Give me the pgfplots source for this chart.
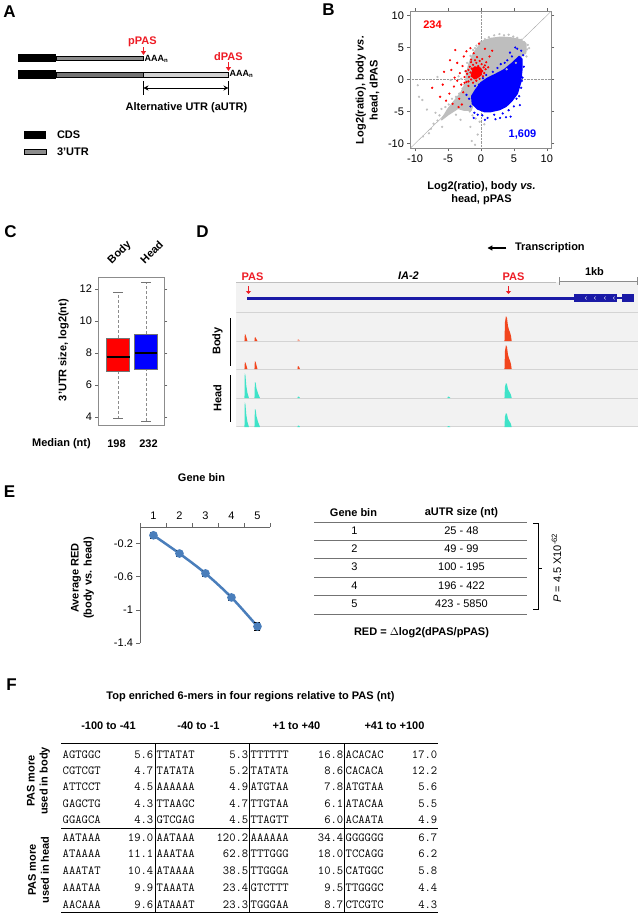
\documentclass[border=0pt]{standalone}
\usepackage{fontspec}
\setmainfont{Liberation Sans}
\usepackage{pgfplots}
\pgfplotsset{compat=1.18}
\usetikzlibrary{arrows.meta}
\definecolor{rgray}{HTML}{BEBEBE}
\definecolor{pasred}{HTML}{EE1C25}
\definecolor{genblue}{HTML}{1A1AA6}
\definecolor{trkred}{HTML}{F2461E}
\definecolor{trkcyan}{HTML}{3FE3C8}
\definecolor{steel}{HTML}{4A7EBB}
\definecolor{bgtrack}{HTML}{F2F2F2}
\definecolor{septrack}{HTML}{D4D4D4}
\newcommand{\ft}{\fontsize{11}{13}\selectfont}
\newcommand{\ftb}{\fontsize{11}{13}\selectfont\bfseries}
\newcommand{\fpl}{\fontsize{17}{20}\selectfont\bfseries}
\newcommand{\fmono}{\fontsize{12.3}{14}\selectfont\ttfamily}
\begin{document}
\begin{tikzpicture}[x=1pt,y=1pt]
\fill[white] (0,0) rectangle (637,-913);
% ---------------- panel letters
\node[font=\fpl] at (8,-12) {A};
\node[font=\fpl] at (327,-10) {B};
\node[font=\fpl] at (9,-232) {C};
\node[font=\fpl] at (201,-232) {D};
\node[font=\fpl] at (8,-492) {E};
\node[font=\fpl] at (10,-685) {F};
% ---------------- panel A
\fill[black] (17,-54) rectangle (55,-62);
\filldraw[fill=black!45,draw=black,line width=0.6pt] (55,-56) rectangle (142,-60);
\fill[black] (17,-70) rectangle (55,-79);
\filldraw[fill=black!55,draw=black,line width=0.6pt] (55,-72) rectangle (142,-77);
\filldraw[fill=black!18,draw=black,line width=0.6pt] (142,-72) rectangle (227,-77);
\node[anchor=west,font=\fontsize{9}{10}\selectfont\bfseries,inner sep=1pt] at (142,-59) {AAA\textsubscript{n}};
\node[anchor=west,font=\fontsize{9}{10}\selectfont\bfseries,inner sep=1pt] at (227,-74) {AAA\textsubscript{n}};
\node[font=\ftb,text=pasred] at (141,-42) {pPAS};
\node[font=\ftb,text=pasred] at (227,-57) {dPAS};
\draw[pasred,line width=1pt,-{Triangle[length=4pt,width=5pt]}] (142,-47) -- (142,-55);
\draw[pasred,line width=1pt,-{Triangle[length=4pt,width=5pt]}] (227,-62) -- (227,-71);
\draw[line width=0.7pt,{Stealth[length=5pt,width=5pt]}-{Stealth[length=5pt,width=5pt]}] (142,-88) -- (227,-88);
\draw[line width=0.7pt] (142,-81) -- (142,-95) (227,-81) -- (227,-95);
\node[font=\ftb] at (185,-108) {Alternative UTR (aUTR)};
\fill[black] (23,-131) rectangle (45,-139);
\node[font=\ftb,anchor=west] at (52,-135) {CDS};
\filldraw[fill=black!45,draw=black,line width=0.6pt] (23,-149) rectangle (45,-154);
\node[font=\ftb,anchor=west] at (52,-152) {3'UTR};
% ---------------- panel B
\begin{axis}[at={(409pt,-148pt)},anchor=south west,scale only axis,width=141pt,height=137pt,
  xmin=-10.7,xmax=10.7,ymin=-10.7,ymax=10.7,
  xtick={-10,-5,0,5,10},xticklabels={-10,-5,0,5,10},
  ytick={-10,-5,0,5,10},yticklabels={-10,-5,0,5,10},
  tick align=outside,major tick length=3pt,
  axis line style={draw=black!45},tick style={black!60},
  tick label style={font=\ft}]
\addplot[black!35,line width=0.4pt] coordinates {(-10.7,-10.7)(10.7,10.7)};
\addplot[black!40,densely dotted,line width=0.4pt] coordinates {(0,-10.7)(0,10.7)};
\addplot[black!40,densely dotted,line width=0.4pt] coordinates {(-10.7,0)(10.7,0)};
\addplot[fill=rgray,draw=rgray,line width=1.5pt,line join=round] coordinates {
(-6,-6.3)(-5,-4.6)(-4,-3.3)(-3,-2.0)(-2.3,-0.5)(-2.2,0.8)(-1.8,2.5)(-1.2,4.0)(-0.5,5.0)(0.3,6.0)
(1.5,6.4)(3,6.6)(4.5,6.5)(6,6.2)(6.8,5.6)(6.8,4.3)(6,3.5)(4.5,2.2)(3,1.2)(1.5,0)(0,-1.8)
(-1,-3.2)(-1.5,-4.8)(-2.5,-4.8)(-3.5,-4.5)(-5,-5.5)} -- cycle;
\addplot[only marks,mark=*,mark size=0.9pt,rgray] coordinates {
(-9.6,-0.9)(-9.4,-2.7)(-8.9,-3.2)(-8.2,-4.7)(-7.9,-8.4)(-7.6,-7.7)(-7.2,-6.9)(-6.9,-5.2)(-6.6,-6.4)
(-6.3,-5.6)(-6,-4.6)(-5.7,-5.9)(-5.4,-4.3)(-5.2,-5.2)(-4.9,-3.9)(-4.6,-4.4)(-4.4,-3.0)(-4.1,-3.6)
(-3.8,-2.7)(-3.6,-3.4)(-3.3,-2.2)(-3.0,-2.7)(-2.8,-1.4)(-2.6,-2.6)(-2.5,-0.8)(-2.3,-3.4)(-2.0,-4.3)
(-1.7,-5.0)(-1.3,-5.6)(-0.8,-6.1)(-0.2,-6.6)(-1.6,-7.4)(-0.5,-8.6)(-0.9,-10.2)(-3.0,0.1)(-4.6,-0.1)
(-6.6,0.4)(-3.4,0.5)(-2.4,1.3)(-2.1,2.6)(-1.6,3.7)(-1.2,4.6)(-0.7,5.3)(-0.1,5.8)(0.6,6.3)(1.2,6.6)
(2.0,6.9)(2.8,7.1)(3.5,6.9)(4.2,7.0)(4.9,6.7)(5.5,6.5)(6.1,6.2)(6.6,5.8)(7.1,5.4)(7.0,4.7)(6.7,4.1)
(6.4,4.8)(-5.9,-7.4)(-8.8,-8.9)(-3.8,-5.5)(0.5,-7.0)(-2.0,-1.0)(-1.7,0.2)(-1.5,3.0)(-0.9,4.9)(0,5.3)
(1,6.0)(2.5,6.4)(4,6.3)(5.8,5.9)(6.5,5.2)(7.3,4.9)(6.9,3.6)(5.3,2.6)(3.9,1.6)(-1.4,-9.6)(-3.1,-6.3)};
\addplot[fill=blue,draw=blue,line width=1.5pt,line join=round] coordinates {
(-0.8,-1.6)(0,-0.5)(1,0.2)(2.2,0.8)(3.5,1.5)(4.8,2.6)(5.8,3.6)(6.2,3.2)(6.2,1.5)(6,-0.5)(5.5,-2.2)
(4.7,-3.3)(3.8,-4.2)(2.8,-4.7)(1.5,-5.0)(0.5,-5.0)(-0.5,-4.6)(-1.3,-3.8)(-1.4,-2.6)} -- cycle;
\addplot[only marks,mark=*,mark size=0.9pt,blue] coordinates {
(-1.8,-3)(-1.6,-4.2)(-1,-5.2)(0.2,-5.6)(1,-6)(2,-5.5)(2.2,-6.2)(3.3,-5.3)(4.2,-4.8)(4.5,-5.8)(5,-4.2)
(5.4,-3)(5.8,-2.6)(6.1,-1.3)(6.3,0.3)(6.5,2)(6.1,4.5)(5.5,4.8)(5.2,5.0)(4.7,3.6)(4,3.0)(3,2.4)(2.5,1.8)
(1.8,1.2)(0.8,0.7)(0.3,0.2)(-0.3,-0.8)(-0.9,-1.0)(3.8,-5.9)(1.6,-4.9)(5.9,-4)(-0.5,-5.5)(6.2,-0.2)
(5.7,1.3)(2.9,-6)(0.6,-6.3)(-2.2,-2.4)(-1.1,-6.0)(5.9,2.8)(6.4,3.8)(4.4,4.2)(3.6,2.6)};
\addplot[fill=red,draw=red,line width=1pt,line join=round] coordinates {
(-1.5,0.5)(-0.8,0.1)(-0.1,0.6)(0.2,1.4)(-0.4,2.0)(-1.2,1.8)} -- cycle;
\addplot[only marks,mark=*,mark size=0.9pt,red] coordinates {
(-2.1,0.9)(-1.9,1.5)(-1.8,0.4)(-1.7,2.0)(-1.6,1.1)(-1.5,0.0)(-1.4,1.7)(-1.3,0.7)(-1.2,2.3)(-1.1,1.3)
(-1.0,0.2)(-0.9,1.9)(-0.8,0.9)(-0.7,2.6)(-0.7,-0.2)(-0.6,1.5)(-0.5,0.5)(-0.4,2.1)(-0.3,1.1)(-0.2,0.1)
(-0.1,1.7)(0.0,0.8)(0.1,2.4)(0.2,1.3)(0.3,0.5)(0.4,1.9)(0.5,1.0)(0.6,2.2)(-1.9,-0.3)(-2.3,1.3)
(-1.5,2.7)(-0.9,3.0)(-0.2,2.9)(0.7,1.6)(-2.5,-0.5)(-1.2,-0.5)
(-7.4,-1.3)(-6.2,-2.7)(-5.6,1.2)(-4.7,3.0)(-3.9,4.6)(-4.5,1.5)(-3.6,2.6)(-3.2,1.0)(-2.8,2.1)(-2.6,3.6)
(-2.2,4.4)(-1.6,4.9)(-1.1,4.1)(-0.6,3.5)(-0.3,5.6)(0.2,3.2)(0.8,2.7)(1.3,3.6)(1.7,4.5)(0.6,4.8)
(-3.6,-0.2)(-4.1,-1.1)(-4.8,-2.2)(-5.3,-3.3)(-4.3,-3.8)(-3.3,-3.0)(-2.7,-2.0)(-1.9,-1.0)(-3.0,-0.8)
(-5.8,-0.8)(-2.5,0.4)(1.1,1.9)(-1.5,3.1)(-4.0,0.3)(-3.4,-4.3)(-2.2,-0.4)(-2.9,-3.9)};
\end{axis}
\node[font=\ftb,text=red] at (431,-25) {234};
\node[font=\ftb,text=blue] at (521,-135) {1,609};
\node[rotate=90,font=\ftb,align=center] at (366,-90) {Log2(ratio), body \textit{vs.}\\[1pt]head, dPAS};
\node[font=\ftb,align=center] at (480,-193) {Log2(ratio), body \textit{vs.}\\[0pt]head, pPAS};
% ---------------- panel C
\begin{axis}[at={(97pt,-425pt)},anchor=south west,scale only axis,width=66pt,height=148pt,
  xmin=0.3,xmax=2.66,ymin=3.5,ymax=12.75,xtick=\empty,
  ytick={4,6,8,10,12},yticklabels={4,6,8,10,12},
  tick align=outside,major tick length=3pt,
  axis line style={draw=black!45},tick style={black!60},
  tick label style={font=\ft}]
\addplot[black!45,densely dashed,line width=0.4pt] coordinates {(1,3.9)(1,6.87)};
\addplot[black!45,densely dashed,line width=0.4pt] coordinates {(1,8.94)(1,11.8)};
\addplot[black!55,line width=0.5pt] coordinates {(0.83,3.9)(1.17,3.9)};
\addplot[black!55,line width=0.5pt] coordinates {(0.83,11.8)(1.17,11.8)};
\addplot[fill=red,draw=black!55,line width=0.4pt] coordinates {(0.59,6.87)(1.41,6.87)(1.41,8.94)(0.59,8.94)} -- cycle;
\addplot[black,line width=1.2pt] coordinates {(0.59,7.75)(1.41,7.75)};
\addplot[black!45,densely dashed,line width=0.4pt] coordinates {(2,3.75)(2,7.0)};
\addplot[black!45,densely dashed,line width=0.4pt] coordinates {(2,9.19)(2,12.4)};
\addplot[black!55,line width=0.5pt] coordinates {(1.83,3.75)(2.17,3.75)};
\addplot[black!55,line width=0.5pt] coordinates {(1.83,12.4)(2.17,12.4)};
\addplot[fill=blue,draw=black!55,line width=0.4pt] coordinates {(1.59,7.0)(2.41,7.0)(2.41,9.19)(1.59,9.19)} -- cycle;
\addplot[black,line width=1.2pt] coordinates {(1.59,8.0)(2.41,8.0)};
\end{axis}
\node[rotate=45,anchor=base west,font=\ftb] at (108,-267) {Body};
\node[rotate=45,anchor=base west,font=\ftb] at (141,-267) {Head};
\node[rotate=90,font=\ftb] at (62,-350) {3'UTR size, log2(nt)};
\node[font=\ftb] at (60,-444) {Median (nt)};
\node[font=\ftb] at (115,-444) {198};
\node[font=\ftb] at (147,-444) {232};
% ---------------- panel D
\draw[-{Triangle[length=5pt,width=5pt]},line width=1.2pt] (505,-248) -- (486,-248);
\node[font=\ftb,anchor=west] at (510,-248) {Transcription};
\fill[bgtrack] (235,-282) rectangle (637,-427);
\draw[black!25,line width=0.6pt] (235,-282) -- (555,-282);
\draw[black!45,line width=0.7pt] (558,-281) -- (636,-281) (558,-277) -- (558,-285) (636,-277) -- (636,-285);
\node[font=\ftb] at (593,-272) {1kb};
\node[font=\ftb,text=pasred] at (251,-277) {PAS};
\node[font=\ftb,text=pasred] at (512,-277) {PAS};
\node[font=\ftb] at (407,-276) {\textit{IA-2}};
\begin{axis}[at={(235pt,-427pt)},anchor=south west,scale only axis,width=402pt,height=145pt,
  xmin=0,xmax=402,ymin=0,ymax=145,hide axis]
\addplot[septrack,line width=0.8pt] coordinates {(0,115)(402,115)};
\addplot[septrack,line width=0.8pt] coordinates {(0,86)(402,86)};
\addplot[septrack,line width=0.8pt] coordinates {(0,58)(402,58)};
\addplot[septrack,line width=0.8pt] coordinates {(0,29)(402,29)};
\addplot[septrack,line width=0.8pt] coordinates {(0,0.5)(402,0.5)};
% track 1 (body)
\addplot[fill=trkred,draw=none] coordinates {(8,86)(8.4,93)(9.2,92)(10.2,88.5)(11,86)} -- cycle;
\addplot[fill=trkred,draw=none] coordinates {(18,86)(18.4,90)(19.2,89.4)(20.2,87.4)(21,86)} -- cycle;
\addplot[fill=trkred!50,draw=none] coordinates {(61,86)(61.4,88)(62.4,87.5)(63.5,86)} -- cycle;
\addplot[fill=trkred,draw=none] coordinates {(268,86)(268.5,104.8)(269.5,111)(270.5,109)(271.5,101)(272.5,97.3)(273.5,94.8)(274.5,91)(275.2,86)} -- cycle;
% track 2 (body)
\addplot[fill=trkred,draw=none] coordinates {(8,58)(8.4,65)(9.2,64)(10.2,60.5)(11,58)} -- cycle;
\addplot[fill=trkred,draw=none] coordinates {(18,58)(18.4,66)(19.2,64.8)(20.2,61)(21,58)} -- cycle;
\addplot[fill=trkred,draw=none] coordinates {(61,58)(61.4,61)(62.4,60.4)(63.5,58)} -- cycle;
\addplot[fill=trkred,draw=none] coordinates {(268,58)(268.5,76)(269.5,82)(270.5,80)(271.5,72.4)(272.5,68.8)(273.5,66.4)(274.5,62.8)(275.2,58)} -- cycle;
% track 3 (head)
\addplot[fill=trkcyan,draw=none] coordinates {(8,29)(8.3,54)(9,51.5)(9.8,41.5)(11,34)(12.5,29)} -- cycle;
\addplot[fill=trkcyan,draw=none] coordinates {(18,29)(18.4,45)(19.2,44.2)(20,38.6)(21.5,33.8)(23.5,29)} -- cycle;
\addplot[fill=trkcyan,draw=none] coordinates {(61,29)(61.5,30.5)(62.5,30.2)(63.5,29)} -- cycle;
\addplot[fill=trkcyan,draw=none] coordinates {(211,29)(211.5,30.5)(212.5,30.2)(214,29)} -- cycle;
\addplot[fill=trkcyan,draw=none] coordinates {(268,29)(268.5,40.3)(269.5,44)(270.5,42.8)(271.5,38)(272.5,35.8)(273.5,34.3)(274.5,32)(275.2,29)} -- cycle;
% track 4 (head)
\addplot[fill=trkcyan,draw=none] coordinates {(8,0)(8.3,25)(9,22.5)(9.8,12.5)(11,5)(12.5,0)} -- cycle;
\addplot[fill=trkcyan,draw=none] coordinates {(18,0)(18.4,18)(19.2,17.1)(20,10.8)(21.5,5.4)(23.5,0)} -- cycle;
\addplot[fill=trkcyan,draw=none] coordinates {(61,0)(61.5,1.5)(62.5,1.2)(63.5,0)} -- cycle;
\addplot[fill=trkcyan,draw=none] coordinates {(211,0)(211.5,1)(212.5,0.8)(214,0)} -- cycle;
\addplot[fill=trkcyan,draw=none] coordinates {(268,0)(268.5,10.5)(269.5,14)(270.5,12.9)(271.5,8.4)(272.5,6.3)(273.5,4.9)(274.5,2.8)(275.2,0)} -- cycle;
\end{axis}
\draw[genblue,line width=3pt] (246,-298) -- (573,-298);
\draw[genblue,line width=1.2pt] (616,-298) -- (621,-298);
\fill[genblue] (573,-294) rectangle (616,-302);
\fill[genblue] (621,-294) rectangle (633,-302);
\foreach \xx in {584,593,603,612} \draw[white,line width=0.4pt] ({\xx+1},-296.5) -- (\xx,-298) -- ({\xx+1},-299.5);
\draw[pasred,line width=1pt,-{Triangle[length=3pt,width=5pt]}] (247,-286) -- (247,-294);
\draw[pasred,line width=1pt,-{Triangle[length=3pt,width=5pt]}] (507,-286) -- (507,-294);
\node[rotate=90,font=\ftb] at (216,-341) {Body};
\draw[line width=1pt] (229,-318) -- (229,-366);
\node[rotate=90,font=\ftb] at (216,-398) {Head};
\draw[line width=1pt] (229,-375) -- (229,-422);
% ---------------- panel E
\node[font=\ftb] at (200,-478) {Gene bin};
\begin{axis}[at={(139pt,-643pt)},anchor=south west,scale only axis,width=130pt,height=116pt,
  xmin=0.5,xmax=5.5,ymin=-1.4,ymax=0,
  axis x line*=top,axis y line*=left,
  xtick={1,2,3,4,5},xticklabels={1,2,3,4,5},
  ytick={-1.4,-1,-0.6,-0.2},yticklabels={-1.4,-1,-0.6,-0.2},
  minor xtick={0.5,1.5,2.5,3.5,4.5,5.5},
  major x tick style={draw=none},
  tick align=outside,major tick length=4pt,minor tick length=4pt,
  axis line style={black!60,line width=0.6pt},tick style={black!60,line width=0.6pt},
  tick label style={font=\ft}]
\addplot[steel,line width=2.5pt,smooth,mark=*,mark size=3pt,mark options={steel},
  error bars/.cd,y dir=both,y explicit,error bar style={black,line width=0.7pt},
  error mark options={rotate=90,black,mark size=3pt,line width=0.7pt}]
  coordinates {(1,-0.10) +- (0,0.035) (2,-0.32) +- (0,0.035) (3,-0.56) +- (0,0.035) (4,-0.85) +- (0,0.04) (5,-1.20) +- (0,0.045)};
\end{axis}
\node[rotate=90,font=\ftb,align=center] at (81,-578) {Average RED\\(body vs. head)};
% table E
\node[font=\ftb] at (352,-513) {Gene bin};
\node[font=\ftb] at (460,-513) {aUTR size (nt)};
\foreach \yy in {522,540,558,577,595,614} \draw[black!55,line width=1pt] (313,-\yy) -- (526,-\yy);
\foreach \yy/\g/\s in {531/1/25 - 48,549/2/49 - 99,567/3/100 - 195,586/4/196 - 422,604/5/423 - 5850}{
  \node[font=\ft] at (353,-\yy) {\g};
  \node[font=\ft] at (460,-\yy) {\s};
}
\draw[line width=0.8pt] (532,-523) -- (537,-523) -- (537,-609) -- (532,-609);
\draw[line width=0.8pt] (537,-568) -- (541,-568);
\node[rotate=90,font=\ft] at (555,-568) {\textit{P} = 4.5 X10\textsuperscript{-62}};
\node[font=\ftb] at (420,-633) {RED = $\Delta$log2(dPAS/pPAS)};
% ---------------- panel F
\node[font=\fontsize{11}{13}\selectfont\bfseries] at (249,-697) {Top enriched 6-mers in four regions relative to PAS (nt)};
\node[font=\fontsize{11}{13}\selectfont\bfseries] at (107,-726) {-100 to -41};
\node[font=\fontsize{11}{13}\selectfont\bfseries] at (197,-726) {-40 to -1};
\node[font=\fontsize{11}{13}\selectfont\bfseries] at (295,-726) {+1 to +40};
\node[font=\fontsize{11}{13}\selectfont\bfseries] at (393,-726) {+41 to +100};
\draw[line width=1pt] (60,-743) -- (437,-743);
\draw[line width=1pt] (60,-828) -- (437,-828);
\draw[line width=1pt] (60,-912) -- (437,-912);
\foreach \xx in {154,248,343} \draw[line width=0.8pt] (\xx,-743) -- (\xx,-912);
\foreach \yy/\ma/\na/\mb/\nb/\mc/\nc/\md/\nd in {
 754/AGTGGC/5.6/TTATAT/5.3/TTTTTT/16.8/ACACAC/17.0,
 770/CGTCGT/4.7/TATATA/5.2/TATATA/8.6/CACACA/12.2,
 786/ATTCCT/4.5/AAAAAA/4.9/ATGTAA/7.8/ATGTAA/5.6,
 803/GAGCTG/4.3/TTAAGC/4.7/TTGTAA/6.1/ATACAA/5.5,
 819/GGAGCA/4.3/GTCGAG/4.5/TTAGTT/6.0/ACAATA/4.9,
 837/AATAAA/19.0/AATAAA/120.2/AAAAAA/34.4/GGGGGG/6.7,
 853/ATAAAA/11.1/AAATAA/62.8/TTTGGG/18.0/TCCAGG/6.2,
 870/AAATAT/10.4/ATAAAA/38.5/TTGGGA/10.5/CATGGC/5.8,
 887/AAATAA/9.9/TAAATA/23.4/GTCTTT/9.5/TTGGGC/4.4,
 904/AACAAA/9.6/ATAAAT/23.3/TGGGAA/8.7/CTCGTC/4.3}{
  \node[font=\fmono,anchor=base west,inner sep=0pt] at (61,{-\yy-4}) {\ma};
  \node[font=\fmono,anchor=base east,inner sep=0pt] at (152,{-\yy-4}) {\na};
  \node[font=\fmono,anchor=base west,inner sep=0pt] at (155,{-\yy-4}) {\mb};
  \node[font=\fmono,anchor=base east,inner sep=0pt] at (247,{-\yy-4}) {\nb};
  \node[font=\fmono,anchor=base west,inner sep=0pt] at (249,{-\yy-4}) {\mc};
  \node[font=\fmono,anchor=base east,inner sep=0pt] at (342,{-\yy-4}) {\nc};
  \node[font=\fmono,anchor=base west,inner sep=0pt] at (344,{-\yy-4}) {\md};
  \node[font=\fmono,anchor=base east,inner sep=0pt] at (436,{-\yy-4}) {\nd};
}
\node[rotate=90,font=\ftb,align=center] at (37,-781) {PAS more\\used in body};
\node[rotate=90,font=\ftb,align=center] at (37,-870) {PAS more\\used in head};
\end{tikzpicture}
\end{document}
